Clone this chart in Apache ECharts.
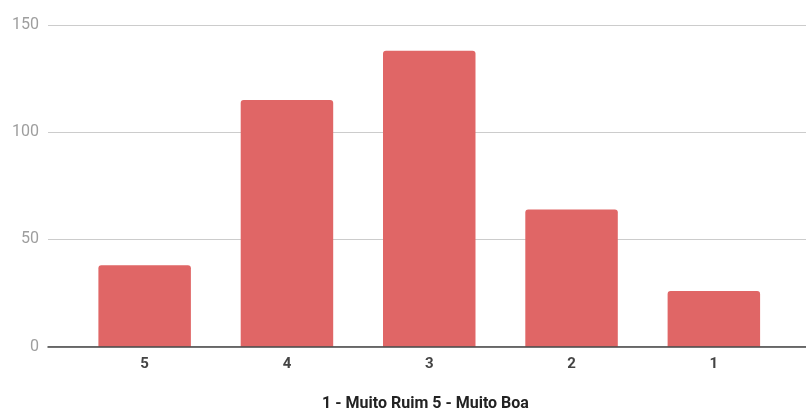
<!DOCTYPE html>
<html>
<head>
<meta charset="utf-8">
<script src="https://cdn.jsdelivr.net/npm/echarts@6/dist/echarts.min.js"></script>
<style>
  html, body { margin: 0; padding: 0; background: #fff; }
  #chart { width: 806px; height: 415px; }
</style>
</head>
<body>
<div id="chart"></div>
<script>
// Ratings, ordered from best to worst as shown on the axis
const categories = ['5', '4', '3', '2', '1'];
const counts = [38, 115, 138, 64, 26];
const yTicks = [0, 50, 100, 150];
const axisTitle = '1 - Muito Ruim 5 - Muito Boa';

const yMin = yTicks[0];
const yMax = yTicks[yTicks.length - 1];
const yStep = yTicks[1] - yTicks[0];

const chart = echarts.init(document.getElementById('chart'));
chart.setOption({
  animation: false,
  textStyle: { fontFamily: 'Roboto, sans-serif' },
  grid: [
    // full-width grid carrying the gridlines, y labels and baseline
    { left: 48, right: 0, top: 25, bottom: 68.3 },
    // inner grid that holds the bars
    { left: 73.5, right: 21, top: 25, bottom: 68.3 }
  ],
  // horizontal axis title below the category labels
  graphic: [
    {
      type: 'text', x: 425.5, y: 404, z: 20,
      style: {
        text: axisTitle, fill: '#222', fontSize: 16, fontWeight: 'bold',
        fontFamily: 'Roboto, sans-serif', align: 'center', verticalAlign: 'middle'
      }
    }
  ],
  xAxis: [
    {
      gridIndex: 0, type: 'value', min: 0, max: 1, z: 10,
      axisLine: { show: true, onZero: false, lineStyle: { color: '#444', width: 1.5 } },
      axisTick: { show: false }, axisLabel: { show: false }, splitLine: { show: false }
    },
    {
      gridIndex: 1, type: 'category', data: categories,
      axisLine: { show: false }, axisTick: { show: false },
      axisLabel: { color: '#444', fontSize: 15, fontWeight: 'bold', margin: 10 }
    }
  ],
  yAxis: [
    {
      gridIndex: 0, type: 'value', min: yMin, max: yMax, interval: yStep,
      axisLine: { show: false }, axisTick: { show: false },
      axisLabel: { color: '#9e9e9e', fontSize: 16, margin: 9 },
      splitLine: { lineStyle: { color: '#cccccc', width: 1 } }
    },
    {
      gridIndex: 1, type: 'value', min: yMin, max: yMax, interval: yStep,
      show: false
    }
  ],
  series: [
    {
      type: 'bar', xAxisIndex: 1, yAxisIndex: 1,
      data: counts,
      barCategoryGap: '35%',
      itemStyle: { color: '#e06666', borderRadius: [3, 3, 0, 0] }
    }
  ]
});
</script>
</body>
</html>
